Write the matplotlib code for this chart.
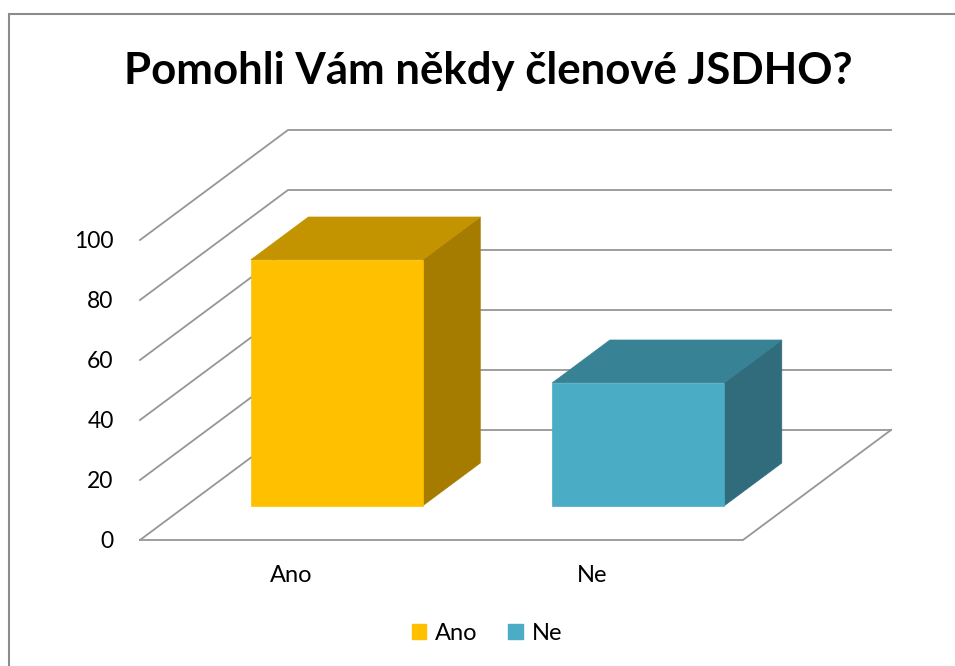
import matplotlib
matplotlib.use('Agg')
import matplotlib.pyplot as plt
from matplotlib.patches import Polygon, Patch, Rectangle

# data
categories = ['Ano', 'Ne']
values = [82, 41]
yticks = [0, 20, 40, 60, 80, 100]
title = 'Pomohli Vám někdy členové JSDHO?'

front_colors = ['#FFC000', '#4BACC6']
top_colors = ['#C49300', '#378395']
side_colors = ['#A67C00', '#316C7D']
grid_color = '#969696'

plt.rcParams['font.family'] = ['Lato', 'DejaVu Sans']

W, H = 955, 666
fig = plt.figure(figsize=(W / 100, H / 100), dpi=100)

# front plane of the 3d box, in pixels
x_left, x_right = 140, 743
y_zero, y_top = 540, 240
ax = fig.add_axes([x_left / W, (H - y_zero) / H,
                   (x_right - x_left) / W, (y_zero - y_top) / H])
ax.set_xlim(0, len(categories))
ax.set_ylim(0, 100)
for s in ax.spines.values():
    s.set_visible(False)

# depth offset of the back wall in data units
ddx = 148 / (x_right - x_left) * len(categories)
ddy = 110 / (y_zero - y_top) * 100


def proj(x, v, f):
    return (x + f * ddx, v + f * ddy)


# walls / gridlines
for v in yticks:
    p0, p1 = proj(0, v, 0), proj(0, v, 1)
    p2 = proj(len(categories), v, 1)
    ax.plot([p0[0], p1[0], p2[0]], [p0[1], p1[1], p2[1]],
            color=grid_color, lw=1.3, clip_on=False, zorder=1)
fl = [proj(0, 0, 0), proj(len(categories), 0, 0), proj(len(categories), 0, 1)]
ax.plot([p[0] for p in fl], [p[1] for p in fl], color=grid_color, lw=1.3,
        clip_on=False, zorder=1)

# bars
bar_w = 0.57
f0, f1 = 0.31, 0.70
for i, v in enumerate(values):
    x0 = i + 0.5 - bar_w / 2
    x1 = i + 0.5 + bar_w / 2
    side = [proj(x1, 0, f0), proj(x1, 0, f1), proj(x1, v, f1), proj(x1, v, f0)]
    top = [proj(x0, v, f0), proj(x0, v, f1), proj(x1, v, f1), proj(x1, v, f0)]
    front = [proj(x0, 0, f0), proj(x1, 0, f0), proj(x1, v, f0), proj(x0, v, f0)]
    for pts, c in ((side, side_colors[i]), (top, top_colors[i]),
                   (front, front_colors[i])):
        ax.add_patch(Polygon(pts, closed=True, facecolor=c, edgecolor=c,
                             lw=0.5, clip_on=False, zorder=3))

ax.set_yticks(yticks)
ax.set_xticks([i + 0.5 for i in range(len(categories))])
ax.set_xticklabels(categories)
ax.tick_params(axis='y', length=0, pad=19, labelsize=16.5)
ax.tick_params(axis='x', length=0, pad=18, labelsize=17)

fig.text(488 / W, 1 - 71 / H, title, ha='center', va='center',
         fontsize=31.5, fontweight='bold')

handles = [Patch(facecolor=c, edgecolor=c) for c in front_colors]
fig.legend(handles, categories, loc='center', bbox_to_anchor=(487 / W, 1 - 633 / H),
           ncol=2, frameon=False, fontsize=17, handlelength=0.6, handleheight=0.6,
           handletextpad=0.4, columnspacing=1.3)

fig.patches.append(Rectangle((9 / W, -0.1), 1.2, 1.1 - 14 / H,
                             transform=fig.transFigure, fill=False,
                             edgecolor='#8C8C8C', lw=1.5))

fig.savefig('out.png', dpi=100)
